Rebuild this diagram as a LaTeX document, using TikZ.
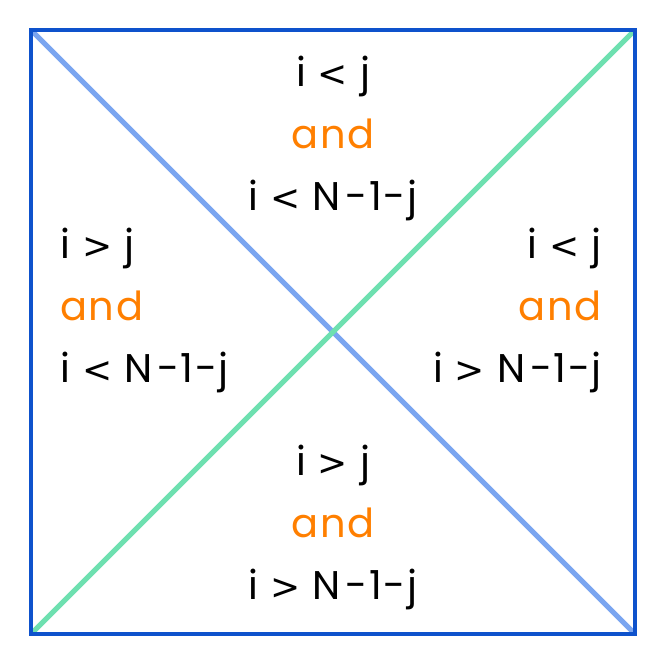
\documentclass[tikz,border=0pt]{standalone}
\usepackage{fontspec}
\setmainfont{Poppins}[LetterSpace=4]
\newfontfamily\symfont{DejaVu Sans}
\usepackage{xcolor}
\definecolor{frameblue}{RGB}{14,82,204}
\definecolor{diagblue}{RGB}{122,165,240}
\definecolor{diaggreen}{RGB}{110,224,176}
\definecolor{andorange}{RGB}{255,127,0}
\tikzset{
  cond/.style={font=\fontsize{40}{62}\selectfont, inner sep=0pt}
}
\newcommand{\andln}{\textcolor{andorange}{and}}
\newcommand{\lsign}{\hspace{12pt}{\symfont\fontsize{36}{62}\selectfont<}\hspace{12pt}}
\newcommand{\gsign}{\hspace{12pt}{\symfont\fontsize{36}{62}\selectfont>}\hspace{12pt}}
\newcommand{\nterm}{N\hspace{5pt}-1-j}

\begin{document}
\begin{tikzpicture}[x=1pt,y=-1pt]
            \useasboundingbox (0,0) rectangle (654,649);

            \coordinate (tl) at (31,30);
            \coordinate (tr) at (635,30);
            \coordinate (bl) at (31,634);
            \coordinate (br) at (635,634);

            \draw[diagblue, line width=5pt] (tl) -- (br);
            \draw[diaggreen, line width=5pt] (bl) -- (tr);
            \draw[frameblue, line width=3.5pt] (tl) rectangle (br);

            \node[cond, align=center] (top) at (333,138) {i\lsign j\\ \andln\\ i\lsign \nterm};
            \node[cond, align=left, anchor=west] (left) at (60,310) {i\gsign j\\ \andln\\ i\lsign \nterm};
            \node[cond, align=right, anchor=east] (right) at (602,310) {i\lsign j\\ \andln\\ i\gsign \nterm};
            \node[cond, align=center] (bottom) at (333,527) {i\gsign j\\ \andln\\ i\gsign \nterm};
        \end{tikzpicture}
\end{document}
